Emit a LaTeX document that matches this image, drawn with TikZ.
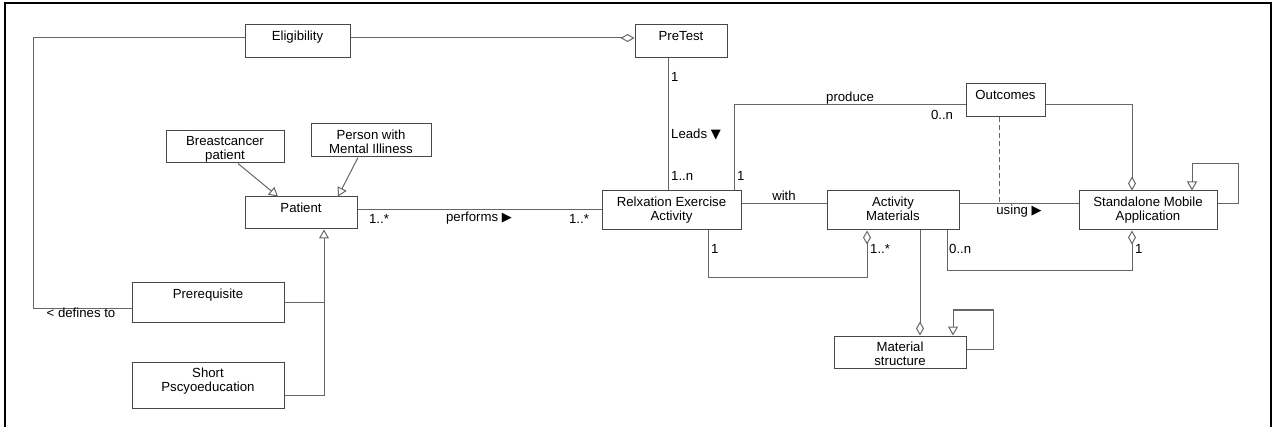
\documentclass[tikz,border=0pt]{standalone}
\usepackage{fontspec}
\setmainfont{Liberation Sans}
\newfontfamily\symfont{DejaVu Sans}
\usetikzlibrary{arrows.meta}
\begin{document}
\begin{tikzpicture}[x=1pt,y=-1pt,
  cls/.style={draw=black!72, line width=1pt, inner sep=0pt, fill=white},
  nm/.style={anchor=north, inner sep=0pt, align=center, font=\fontsize{13.2}{14}\selectfont},
  lbl/.style={inner sep=0pt, font=\fontsize{13.2}{14}\selectfont},
  conn/.style={draw=black!60, line width=1pt},
  gen/.style={conn, -{Triangle[open, length=9pt, width=10pt]}},
  agg/.style={conn, -{Diamond[open, length=14pt, width=8pt]}}]
\useasboundingbox (0,0) rectangle (1281,427);
\draw[line width=1.5pt] (5,427) -- (5,3) -- (1271,3) -- (1271,427);

% classes
\node[cls, minimum width=105pt, minimum height=33pt] (elig) at (297.5,41.5) {};
\node[nm] (eligT) at ([yshift=-6.5pt]elig.north) {Eligibility};
\node[cls, minimum width=92pt, minimum height=33pt] (pretest) at (681,41.5) {};
\node[nm] (pretestT) at ([yshift=-6.5pt]pretest.north) {PreTest};
\node[cls, minimum width=118pt, minimum height=32pt] (breast) at (225,147) {};
\node[nm] (breastT) at ([yshift=-6pt]breast.north) {Breastcancer\\patient};
\node[cls, minimum width=120pt, minimum height=33pt] (person) at (371,140.5) {};
\node[nm] (personT) at ([yshift=-6.5pt]person.north) {Person with\\Mental Illiness};
\node[cls, minimum width=112pt, minimum height=32pt] (patient) at (301,213) {};
\node[nm] (patientT) at ([yshift=-6pt]patient.north) {Patient};
\node[cls, minimum width=152pt, minimum height=39pt] (prereq) at (208,302.5) {};
\node[nm] (prereqT) at ([yshift=-6.5pt]prereq.north) {Prerequisite};
\node[cls, minimum width=152pt, minimum height=46pt] (short) at (208,385) {};
\node[nm] (shortT) at ([yshift=-6.5pt]short.north) {Short\\Pscyoeducation};
\node[cls, minimum width=139pt, minimum height=39pt] (relax) at (671.5,210.5) {};
\node[nm] (relaxT) at ([yshift=-6pt]relax.north) {Relxation Exercise\\Activity};
\node[cls, minimum width=79pt, minimum height=33pt] (outc) at (1005.5,100.5) {};
\node[nm] (outcT) at ([yshift=-6.5pt]outc.north) {Outcomes};
\node[cls, minimum width=132pt, minimum height=39pt] (am) at (893,210.5) {};
\node[nm] (amT) at ([yshift=-6pt]am.north) {Activity\\Materials};
\node[cls, minimum width=138pt, minimum height=39pt] (sma) at (1148,210.5) {};
\node[nm] (smaT) at ([yshift=-6pt]sma.north) {Standalone Mobile\\Application};
\node[cls, minimum width=132pt, minimum height=32pt] (ms) at (900,352) {};
\node[nm] (msT) at ([yshift=-6pt]ms.north) {Material\\structure};

% connectors
\draw[agg] ([yshift=3.5pt]elig.east) -- ([yshift=3.5pt]pretest.west);
\coordinate (c1) at (33,38);
\draw[conn] ([yshift=3.5pt]elig.west) -- (c1) |- ([yshift=-6.5pt]prereq.west);
\node[lbl] (deflbl) at (81,312.5) {< defines to};

\draw[gen] ([xshift=13pt]breast.south) -- ([xshift=-23pt]patient.north);
\draw[gen] ([xshift=-13pt]person.south) -- ([xshift=37pt]patient.north);
\draw[gen] ([yshift=-10pt]short.east) -| ([xshift=23pt]patient.south);
\coordinate (gj) at (324,303);
\draw[conn] ([yshift=-0.5pt]prereq.east) -- (gj);

\draw[conn] ([yshift=3pt]patient.east) -- ([yshift=0.5pt]relax.west);
\node[lbl] (m1) at (379,219) {1..*};
\node[lbl] (perf) at (479,218) {performs {\symfont\fontsize{13}{13}\selectfont ▶}};
\node[lbl] (m2) at (579,219) {1..*};

\draw[conn] ([xshift=-13pt]pretest.south) -- ([xshift=-3.5pt]relax.north);
\node[lbl, anchor=west] (m3) at (671,77) {1};
\node[lbl, anchor=west] (leads) at (671,135) {Leads {\symfont\fontsize{13}{13}\selectfont ▼}};
\node[lbl, anchor=west] (m4) at (671,176) {1..n};

\draw[conn] ([xshift=62.5pt]relax.north) |- ([yshift=-4.5pt]outc.west);
\node[lbl] (prod) at (850,98) {produce};
\node[lbl] (m5) at (942,115) {0..n};
\node[lbl, anchor=west] (m6) at (737,176) {1};

\draw[agg] ([yshift=-4.5pt]outc.east) -| ([xshift=-16pt]sma.north);

\draw[conn] ([yshift=6.5pt]relax.east) -- ([yshift=6.5pt]am.west);
\node[lbl] (with) at (784,196) {with};
\draw[conn] ([yshift=6.5pt]am.east) coordinate (amE) -- ([yshift=6.5pt]sma.west);
\draw[conn, dash pattern=on 5pt off 3pt] ([xshift=-6.5pt]outc.south) -- ([xshift=-6.5pt]outc.south |- amE);
\node[lbl] (using) at (1019,211) {using {\symfont\fontsize{13}{13}\selectfont ▶}};

\draw[gen] ([yshift=6.5pt]sma.east) -- (1238,204) -- (1238,164) -- (1192,164) -- ([xshift=44pt]sma.north);

\draw[agg] ([xshift=36.5pt]relax.south) -- ++(0,47) -| ([xshift=-26pt]am.south);
\node[lbl, anchor=west] (m7) at (711,249) {1};
\node[lbl, anchor=west] (m8) at (870,249) {1..*};

\draw[agg] ([xshift=54pt]am.south) -- ++(0,40) -| ([xshift=-16pt]sma.south);
\node[lbl, anchor=west] (m9) at (949,249) {0..n};
\node[lbl, anchor=west] (m10) at (1135,249) {1};

\draw[agg] ([xshift=27pt]am.south) -- ([xshift=20pt]ms.north);
\draw[gen] ([yshift=3pt]ms.east) -- (993,349) -- (993,310) -- (953,310) -- ([xshift=53pt]ms.north);
\end{tikzpicture}
\end{document}
